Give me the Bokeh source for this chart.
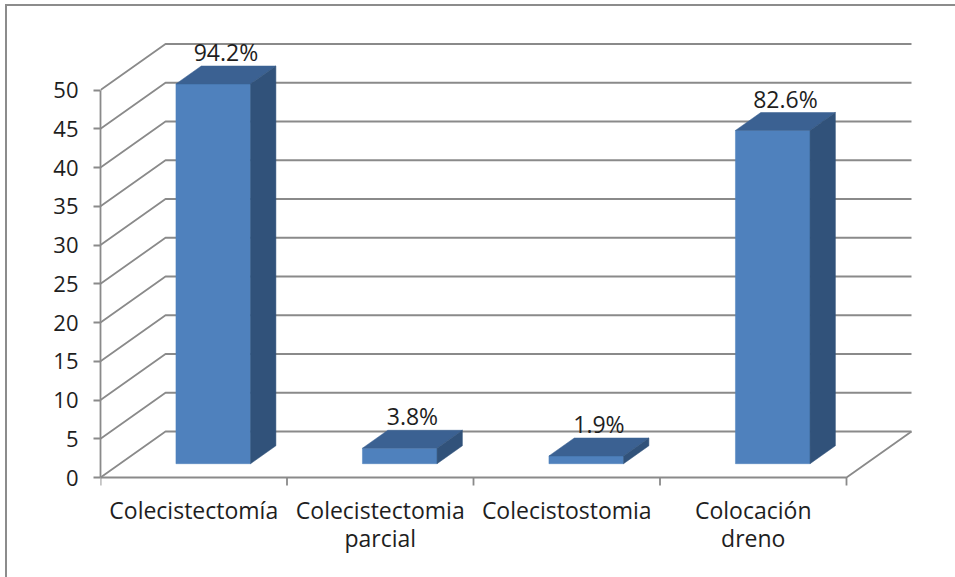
from bokeh.plotting import figure
from bokeh.layouts import column
from bokeh.models import FixedTicker, LinearAxis, Range1d, ColumnDataSource
from bokeh.core.properties import value
from bokeh.embed import file_html
from bokeh.resources import INLINE

# ---- data -------------------------------------------------------------
categories = ["Colecistectomía", "Colecistectomia\nparcial", "Colecistostomia", "Colocación\ndreno"]
counts = [49, 2, 1, 43]
pct_labels = ["94.2%", "3.8%", "1.9%", "82.6%"]
y_ticks = [0, 5, 10, 15, 20, 25, 30, 35, 40, 45, 50]

# ---- layout / style (page pixels) -------------------------------------
PAGE_W, PAGE_H = 955, 577
OFF_X, OFF_Y = 7, 6                 # chart-area border + margin
W, H = PAGE_W - OFF_X, PAGE_H - OFF_Y
FRAME_L, FRAME_R, FRAME_T, FRAME_B = 100, 916, 20, 487
ZERO_Y = 477                        # page row of value 0 on the front plane
PX_PER_CAT = 186.5                  # horizontal pixels per category slot
PX_PER_UNIT = 7.75                  # vertical pixels per count unit
DEPTH_DX, DEPTH_DY = 65, 46         # oblique depth of the floor, in pixels
BAR_HALF = 0.2                      # half bar width, in category units
BAR_D0, BAR_D1 = 0.30, 0.69         # bar front / back, as fraction of depth
LABEL_GAP_PX = 14
TICK_PX = 8

GRID = "#8a8a8a"
TEXT = "#1e1e1e"
FRONT, TOP, SIDE = "#4F81BD", "#3B6192", "#31527A"
FONT = "Open Sans"

n = len(categories)
ddx = DEPTH_DX / PX_PER_CAT
ddy = DEPTH_DY / PX_PER_UNIT
x_end = (FRAME_R - FRAME_L) / PX_PER_CAT
y_start = -(FRAME_B - ZERO_Y) / PX_PER_UNIT
y_end = (ZERO_Y - FRAME_T) / PX_PER_UNIT
y_max = max(y_ticks)


def proj(x, v, d):
    """Oblique projection: category x, value v, depth fraction d."""
    return x + d * ddx, v + d * ddy


p = figure(width=W, height=H, output_backend="svg", toolbar_location=None,
           x_range=Range1d(0, x_end), y_range=Range1d(y_start, y_end),
           x_axis_location=None, y_axis_location=None,
           min_border_left=FRAME_L - OFF_X, min_border_right=W - (FRAME_R - OFF_X),
           min_border_top=FRAME_T - OFF_Y, min_border_bottom=H - (FRAME_B - OFF_Y))
p.outline_line_color = None
p.background_fill_color = "white"
p.border_fill_color = "white"
p.grid.visible = False

# ---- walls: back gridlines with their diagonal on the side wall --------
gx, gy = [], []
for v in y_ticks:
    x0, y0 = proj(0, v, 0)
    x1, y1 = proj(0, v, 1)
    x2, y2 = proj(n, v, 1)
    gx.append([x0, x1, x2])
    gy.append([y0, y1, y2])
# front and right edges of the floor
fx0, fy0 = proj(n, 0, 0)
fx1, fy1 = proj(n, 0, 1)
gx.append([0, fx0, fx1])
gy.append([0, fy0, fy1])
p.multi_line(xs=gx, ys=gy, line_color=GRID, line_width=1.8)

# category boundary ticks under the floor
bounds = list(range(n + 1))
p.segment(x0=bounds, y0=[0] * len(bounds), x1=bounds,
          y1=[-TICK_PX / PX_PER_UNIT] * len(bounds), line_color=GRID, line_width=1.8)

# ---- 3-D bars ----------------------------------------------------------
fronts_x, fronts_y, tops_x, tops_y, sides_x, sides_y = [], [], [], [], [], []
lab_x, lab_y = [], []


def face(coords):
    pts = [proj(*c) for c in coords]
    return [q[0] for q in pts], [q[1] for q in pts]


for i, v in enumerate(counts):
    cx = i + 0.5
    xl, xr = cx - BAR_HALF, cx + BAR_HALF
    fx, fy = face([(xl, 0, BAR_D0), (xr, 0, BAR_D0), (xr, v, BAR_D0), (xl, v, BAR_D0)])
    tx, ty = face([(xl, v, BAR_D0), (xr, v, BAR_D0), (xr, v, BAR_D1), (xl, v, BAR_D1)])
    sx, sy = face([(xr, 0, BAR_D0), (xr, 0, BAR_D1), (xr, v, BAR_D1), (xr, v, BAR_D0)])
    fronts_x.append(fx); fronts_y.append(fy)
    tops_x.append(tx); tops_y.append(ty)
    sides_x.append(sx); sides_y.append(sy)
    lab_x.append(proj(cx, v, (BAR_D0 + BAR_D1) / 2)[0])
    lab_y.append(proj(cx, v, BAR_D1)[1] + LABEL_GAP_PX / PX_PER_UNIT)

p.patches(xs=fronts_x, ys=fronts_y, fill_color=FRONT, line_color=FRONT, line_width=0.5)
p.patches(xs=tops_x, ys=tops_y, fill_color=TOP, line_color=TOP, line_width=0.5)
p.patches(xs=sides_x, ys=sides_y, fill_color=SIDE, line_color=SIDE, line_width=0.5)

src = ColumnDataSource(dict(x=lab_x, y=lab_y, text=pct_labels))
p.text(x="x", y="y", text="text", source=src, text_font=value(FONT),
       text_font_size="23px", text_color=TEXT, text_align="center",
       text_baseline="middle")

# ---- axes --------------------------------------------------------------
yax = LinearAxis(ticker=FixedTicker(ticks=y_ticks), bounds=(0, y_max))
yax.axis_line_color = GRID
yax.axis_line_width = 1.8
yax.major_tick_line_color = GRID
yax.major_tick_line_width = 1.8
yax.major_tick_in = 0
yax.major_tick_out = 7
yax.minor_tick_line_color = None
yax.major_label_text_font = FONT
yax.major_label_text_font_size = "22px"
yax.major_label_text_color = TEXT
yax.major_label_standoff = 15
p.add_layout(yax, "left")

xlab = LinearAxis(ticker=FixedTicker(ticks=[i + 0.5 for i in range(n)]),
                  major_label_overrides={i + 0.5: c for i, c in enumerate(categories)})
xlab.axis_line_color = None
xlab.major_tick_line_color = None
xlab.minor_tick_line_color = None
xlab.major_tick_in = 0
xlab.major_tick_out = 0
xlab.major_label_text_font = FONT
xlab.major_label_text_font_size = "23px"
xlab.major_label_text_color = TEXT
xlab.major_label_text_line_height = 0.9
xlab.major_label_standoff = 6
p.add_layout(xlab, "below")

# chart-area border (left and top edges are inside the window)
page = column(p, styles={"border-left": "2px solid #8c8c8c",
                         "border-top": "2px solid #8c8c8c",
                         "margin-left": "5px", "margin-top": "4px"})

open("out.html", "w").write(file_html(page, INLINE))
